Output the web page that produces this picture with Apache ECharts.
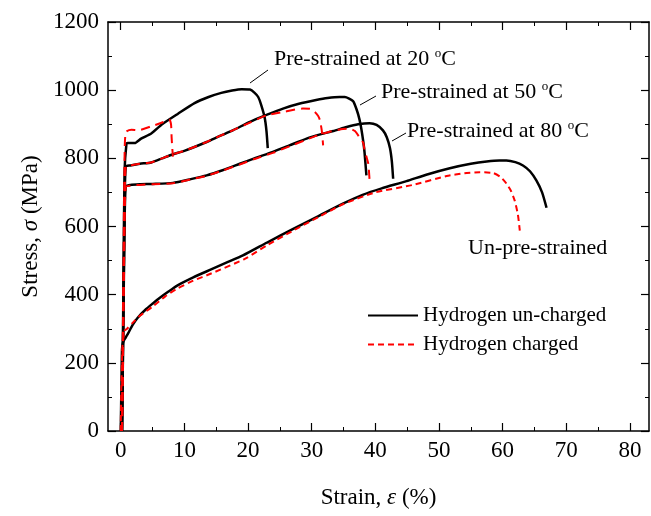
<!DOCTYPE html>
<html lang="en">
<head>
    <meta charset="UTF-8">
    <title>Stress-strain</title>
    <script src="https://cdn.jsdelivr.net/npm/echarts@6/dist/echarts.min.js"></script>
    <style>
        body { margin: 0; background: #fff; }
        #main { width: 651px; height: 516px; }
    </style>
</head>
<body>
<div id="main"></div>
<script type="text/javascript">
    // tick values
    var xTicks = [0, 10, 20, 30, 40, 50, 60, 70, 80];
    var xMinor = [5, 15, 25, 35, 45, 55, 65, 75];

    // un-pre-strained
    var unX0 = [0, 0.1, 0.2, 0.4, 0.8, 1.2, 1.9, 2.7, 4, 5.1, 6.1, 7.5, 9, 11.4, 14.2, 16.5, 19.2, 23, 27.1, 31, 34.9, 38, 41, 44.9, 48, 51.7, 55, 57.5, 59.5, 60.6, 62, 63.2, 64.3, 65.3, 66.2, 66.9];
    var unY0 = [0, 120, 240, 262, 275, 288, 312, 333, 358, 375, 390, 409, 428, 451, 474, 493, 515, 553, 593, 630, 667, 693, 712, 733, 752, 771, 784, 791, 794, 794, 789, 779, 762, 735, 700, 655];
    var unX1 = [0, 0.1, 0.3, 0.6, 1, 1.9, 3, 5, 7, 9, 11.4, 14.2, 19.5, 23, 27.1, 31, 35, 40, 45.9, 51.2, 54, 56.4, 58.5, 59.7, 60.6, 61.3, 61.9, 62.4, 62.7];
    var unY1 = [0, 130, 260, 294, 300, 318, 338, 365, 395, 419, 441, 462, 505, 545, 588, 627, 666, 700, 722, 748, 756, 759, 757, 745, 726, 705, 676, 635, 588];

    // pre-strained at 80 C
    var p80X0 = [0.2, 0.4, 0.6, 0.8, 1.5, 3, 5, 8.2, 11, 13.5, 16, 18.7, 21, 23.9, 26.5, 29.2, 31.5, 33.4, 35.5, 37.3, 39.1, 40.2, 41.2, 41.8, 42.3, 42.6, 42.8];
    var p80Y0 = [0, 300, 600, 718, 722, 724, 725, 728, 739, 750, 765, 784, 800, 819, 838, 858, 871, 880, 892, 900, 903, 898, 882, 862, 830, 790, 740];
    var p80X1 = [0.2, 0.4, 0.6, 0.8, 1.5, 3, 5, 8.2, 11, 13.5, 16, 18.7, 21, 23.9, 26.5, 29.2, 30.7, 32.8, 34.9, 36, 36.8, 37.5, 38.1, 38.3, 38.6, 38.9, 39.1];
    var p80Y1 = [0, 300, 600, 716, 720, 722, 724, 727, 738, 749, 764, 782, 798, 816, 835, 855, 866, 878, 886, 887, 880, 862, 845, 825, 805, 784, 735];

    // pre-strained at 50 C
    var p50X0 = [0.2, 0.4, 0.6, 0.8, 1.5, 3, 4.8, 6.5, 8.2, 10, 13.5, 15.5, 17.6, 20.3, 23, 25.5, 28, 30.7, 32.5, 34.4, 35.2, 36.5, 37.1, 37.5, 37.8, 38.1, 38.3, 38.6];
    var p50Y0 = [0, 320, 650, 776, 779, 784, 788, 800, 812, 822, 848, 865, 882, 907, 928, 946, 960, 971, 977, 980, 980, 968, 941, 915, 887, 850, 819, 750];
    var p50X1 = [0.2, 0.4, 0.6, 0.8, 1.5, 3, 4.8, 6.5, 8.2, 10, 13.5, 15.5, 17.6, 20.3, 22.9, 25.5, 28.6, 29.8, 30.5, 31, 31.3, 31.6, 31.8];
    var p50Y1 = [0, 320, 650, 776, 779, 784, 788, 800, 812, 822, 848, 865, 882, 905, 926, 936, 946, 945, 936, 925, 912, 880, 838];

    // pre-strained at 20 C
    var p20X0 = [0.2, 0.4, 0.6, 0.9, 1.1, 2.2, 3.2, 4.8, 6.5, 9, 11.6, 13.8, 15.8, 17.5, 19, 20.3, 21, 21.6, 22.1, 22.6, 22.9, 23.1];
    var p20Y0 = [0, 380, 760, 843, 845, 845, 858, 873, 900, 931, 962, 980, 992, 999, 1003, 1002, 993, 980, 955, 921, 880, 830];
    var p20X1 = [0.2, 0.4, 0.6, 0.8, 1.7, 2.7, 4.8, 6.5, 7.6, 7.9, 8.0, 8.1, 8.2];
    var p20Y1 = [0, 420, 800, 877, 884, 882, 894, 905, 914, 900, 860, 830, 805];

    var NAME_UN = 'Hydrogen un-charged';
    var NAME_CH = 'Hydrogen charged';
    var FONT = '"Liberation Serif", "Times New Roman", serif';

    function zip(xs, ys) {
        return xs.map(function (x, i) { return [x, ys[i]]; });
    }

    function blackLine(xs, ys) {
        return {
            name: NAME_UN, type: 'line', showSymbol: false, symbol: 'none',
            smooth: 0.2, z: 3,
            lineStyle: {color: '#000', width: 2.5, type: 'solid'},
            itemStyle: {color: '#000'},
            data: zip(xs, ys)
        };
    }

    function redLine(xs, ys, dash) {
        return {
            name: NAME_CH, type: 'line', showSymbol: false, symbol: 'none',
            smooth: 0.2, z: 4,
            lineStyle: {color: '#ff0000', width: 2, type: dash || [9, 6]},
            itemStyle: {color: '#ff0000'},
            data: zip(xs, ys)
        };
    }

    var xBase = {
        type: 'value', min: -2, max: 83, gridIndex: 0,
        splitLine: {show: false}
    };

    var myChart = echarts.init(document.getElementById('main'));

    function annot(x, y, t) {
        return {
            type: 'text', x: x, y: y,
            style: {
                text: '{a|Pre-strained at ' + t + ' }{s|o}{a|C}',
                verticalAlign: 'middle',
                rich: {
                    a: {fontFamily: FONT, fontSize: 22, color: '#000', lineHeight: 24},
                    s: {fontFamily: FONT, fontSize: 13, color: '#000', lineHeight: 24, verticalAlign: 'top'}
                }
            }
        };
    }

    var option = {
        animation: false,
        backgroundColor: '#fff',
        textStyle: {fontFamily: FONT},
        grid: {left: 108, right: 2, top: 22, bottom: 85},
        legend: {
            orient: 'vertical',
            left: 362, top: 300,
            itemWidth: 50, itemHeight: 14, itemGap: 8,
            itemStyle: {opacity: 0},
            textStyle: {fontFamily: FONT, fontSize: 21, color: '#000'},
            data: [NAME_UN, NAME_CH]
        },
        xAxis: [
            Object.assign({}, xBase, {
                position: 'bottom',
                name: '{n|Strain, }{i|ε}{n| (%)}',
                nameLocation: 'middle', nameGap: 55,
                nameTextStyle: {
                    rich: {
                        n: {fontFamily: FONT, fontSize: 23, color: '#000'},
                        i: {fontFamily: FONT, fontSize: 23, fontStyle: 'italic', color: '#000'}
                    }
                },
                axisLine: {show: true, onZero: false, lineStyle: {color: '#000', width: 1.5}},
                axisTick: {show: true, inside: true, length: 8, customValues: xTicks, lineStyle: {color: '#000', width: 1.2}},
                axisLabel: {show: true, customValues: xTicks, margin: 8, fontFamily: FONT, fontSize: 23, color: '#000'}
            }),
            Object.assign({}, xBase, {
                position: 'bottom',
                axisLine: {show: false, onZero: false},
                axisTick: {show: true, inside: true, length: 4, customValues: xMinor, lineStyle: {color: '#000', width: 1}},
                axisLabel: {show: false}
            }),
            Object.assign({}, xBase, {
                position: 'top',
                axisLine: {show: true, onZero: false, lineStyle: {color: '#000', width: 1.5}},
                axisTick: {show: true, inside: true, length: 8, customValues: xTicks, lineStyle: {color: '#000', width: 1.2}},
                axisLabel: {show: false}
            }),
            Object.assign({}, xBase, {
                position: 'top',
                axisLine: {show: false, onZero: false},
                axisTick: {show: true, inside: true, length: 4, customValues: xMinor, lineStyle: {color: '#000', width: 1}},
                axisLabel: {show: false}
            })
        ],
        yAxis: [
            {
                type: 'value', min: 0, max: 1200, interval: 200, position: 'left',
                name: '{n|Stress, }{i|σ}{n| (MPa)}',
                nameLocation: 'middle', nameGap: 64,
                nameTextStyle: {
                    rich: {
                        n: {fontFamily: FONT, fontSize: 23, color: '#000'},
                        i: {fontFamily: FONT, fontSize: 23, fontStyle: 'italic', color: '#000'}
                    }
                },
                splitLine: {show: false},
                axisLine: {show: true, onZero: false, lineStyle: {color: '#000', width: 1.5}},
                axisTick: {show: true, inside: true, length: 8, lineStyle: {color: '#000', width: 1.2}},
                minorTick: {show: true, splitNumber: 2, length: 4, lineStyle: {color: '#000', width: 1}},
                axisLabel: {
                    margin: 9, fontFamily: FONT, fontSize: 23, color: '#000',
                    formatter: function (v) { return String(v); }
                }
            },
            {
                type: 'value', min: 0, max: 1200, interval: 200, position: 'right',
                splitLine: {show: false},
                axisLine: {show: true, onZero: false, lineStyle: {color: '#000', width: 1.5}},
                axisTick: {show: true, inside: true, length: 8, lineStyle: {color: '#000', width: 1.2}},
                minorTick: {show: true, splitNumber: 2, length: 4, lineStyle: {color: '#000', width: 1}},
                axisLabel: {show: false}
            }
        ],
        series: [
            blackLine(unX0, unY0),
            redLine(unX1, unY1, [6, 4]),
            blackLine(p80X0, p80Y0),
            redLine(p80X1, p80Y1),
            blackLine(p50X0, p50Y0),
            redLine(p50X1, p50Y1),
            blackLine(p20X0, p20Y0),
            redLine(p20X1, p20Y1)
        ],
        graphic: [
            // annotation leader lines
            {type: 'line', shape: {x1: 250, y1: 83, x2: 268, y2: 70}, style: {stroke: '#000', lineWidth: 1}},
            {type: 'line', shape: {x1: 360, y1: 105, x2: 376, y2: 96}, style: {stroke: '#000', lineWidth: 1}},
            {type: 'line', shape: {x1: 392, y1: 141, x2: 406, y2: 133}, style: {stroke: '#000', lineWidth: 1}},
            annot(274, 59, '20'),
            annot(381, 92, '50'),
            annot(407, 131, '80'),
            {
                type: 'text', x: 468, y: 248,
                style: {text: 'Un-pre-strained', fontFamily: FONT, fontSize: 22, fill: '#000', verticalAlign: 'middle'}
            }
        ]
    };

    myChart.setOption(option);
</script>
</body>
</html>
